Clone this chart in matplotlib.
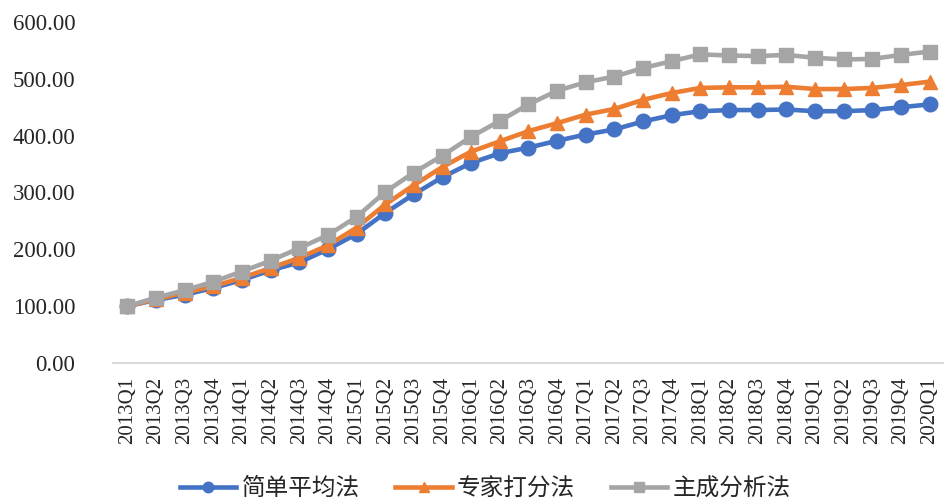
import matplotlib.pyplot as plt
import numpy as np

# quarterly index, 2013Q1 = 100
quarters = ["2013Q1", "2013Q2", "2013Q3", "2013Q4",
            "2014Q1", "2014Q2", "2014Q3", "2014Q4",
            "2015Q1", "2015Q2", "2015Q3", "2015Q4",
            "2016Q1", "2016Q2", "2016Q3", "2016Q4",
            "2017Q1", "2017Q2", "2017Q3", "2017Q4",
            "2018Q1", "2018Q2", "2018Q3", "2018Q4",
            "2019Q1", "2019Q2", "2019Q3", "2019Q4",
            "2020Q1"]
simple_avg = [100, 111, 120, 132, 146, 163, 177, 200,
              227, 264, 297, 327, 352, 369, 379, 391,
              402, 411, 425, 436, 443, 445, 445, 446,
              443, 443, 445, 450, 455]
expert = [100, 112, 124, 135, 150, 167, 185, 207,
          238, 279, 313, 345, 372, 390, 408, 422,
          437, 447, 463, 475, 484, 485, 485, 486,
          482, 482, 484, 489, 495]
pca = [100, 115, 128, 143, 161, 180, 202, 225,
       257, 301, 335, 365, 398, 426, 455, 479,
       494, 504, 519, 531, 543, 541, 540, 542,
       537, 534, 535, 542, 548]
yticks = [0, 100, 200, 300, 400, 500, 600]

num_font = "Liberation Serif"
cjk_font = ["Noto Sans CJK SC", "DejaVu Sans"]

fig = plt.figure(figsize=(9.44, 4.99), dpi=100)
ax = fig.add_axes([0.1197, 0.2725, 0.8803, 0.6835])

x = np.arange(len(quarters))
ax.plot(x, simple_avg, color="#4472C4", lw=3.3, marker="o", ms=10.5, label="简单平均法")
ax.plot(x, expert, color="#ED7D31", lw=3.3, marker="^", ms=10.5, label="专家打分法")
ax.plot(x, pca, color="#A5A5A5", lw=3.3, marker="s", ms=10.5, label="主成分析法")

ax.set_xlim(-0.5, len(quarters) - 0.5)
ax.set_ylim(0, 600)
ax.set_yticks(yticks)
ax.set_yticklabels(["%.2f" % v for v in yticks], fontfamily=num_font, fontsize=16.5)
ax.set_xticks(x)
ax.set_xticklabels(quarters, rotation=90, fontfamily=num_font, fontsize=15)
ax.tick_params(axis="y", length=0, pad=27, colors="#262626")
ax.tick_params(axis="x", length=0, pad=10, colors="#262626")

for side in ["top", "right", "left"]:
    ax.spines[side].set_visible(False)
ax.spines["bottom"].set_color("#D9D9D9")
ax.spines["bottom"].set_linewidth(1.5)

leg = fig.legend(loc="lower center", bbox_to_anchor=(0.514, -0.045), ncol=3,
                 frameon=False, handlelength=2.4, handletextpad=0.22,
                 columnspacing=1.5, markerscale=0.72,
                 prop={"family": cjk_font, "size": 17})
for t in leg.get_texts():
    t.set_color("#262626")

plt.savefig("out.png", dpi=100)
